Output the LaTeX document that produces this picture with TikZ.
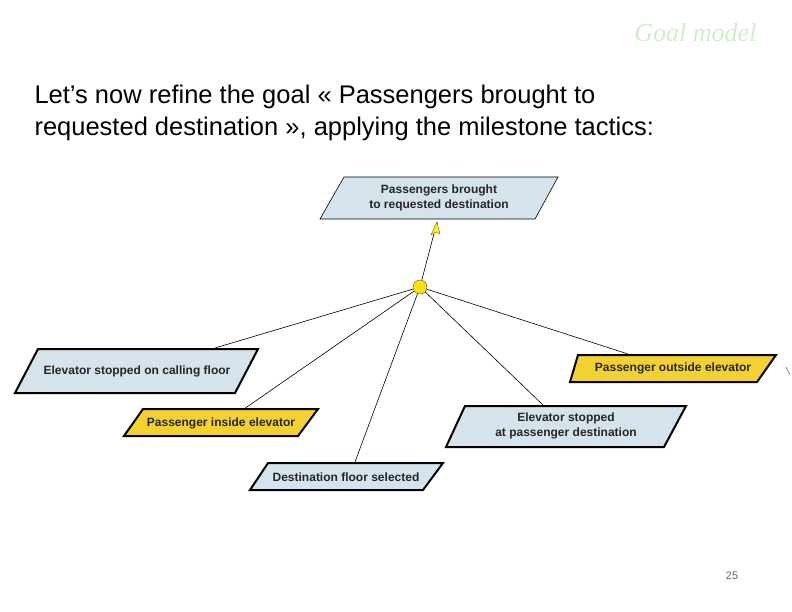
\documentclass[tikz,border=0pt]{standalone}
\usepackage{fontspec}
\setmainfont{Liberation Sans}
\newfontfamily\serifT{Liberation Serif}
\begin{document}
\begin{tikzpicture}[x=1pt,y=-1pt,
  blue/.style={fill=boxblue,draw=black},
  yel/.style={fill=boxyel,draw=black},
  lbl/.style={font=\fontsize{12}{15}\selectfont\bfseries,align=center,text=black!85},
  link/.style={draw=black,line width=0.6pt}]
\definecolor{boxblue}{HTML}{D5E3EC}
\definecolor{boxyel}{HTML}{F3D22F}
\definecolor{ttl}{HTML}{CDEFC8}
\useasboundingbox (0,0) rectangle (792,612);
\node[font=\serifT\itshape\fontsize{26}{28}\selectfont,text=ttl,anchor=east] (title) at (760,33) {Goal model};
\node[font=\fontsize{25.5}{32}\selectfont,align=left,anchor=north west] (head) at (31,81) {Let’s now refine the goal «~Passengers brought to\\requested destination~», applying the milestone tactics:};
% boxes
\draw[blue,line width=0.6pt] (344,177)--(558,177)--(535,219)--(320,219)--cycle;
\node[lbl] (g) at (439,198) {Passengers brought\\to requested destination};
\draw[blue,line width=2pt] (38,349)--(258,349)--(235,393)--(15,393)--cycle;
\node[lbl] (a) at (137,371) {Elevator stopped on calling floor};
\draw[yel,line width=2pt] (143,409)--(318,409)--(298,436)--(124,436)--cycle;
\node[lbl] (b) at (221,423) {Passenger inside elevator};
\draw[blue,line width=2pt] (268,463)--(443,463)--(423,490)--(250,490)--cycle;
\node[lbl] (c) at (346,477) {Destination floor selected};
\draw[blue,line width=2pt] (465,406)--(686,406)--(664,447)--(446,447)--cycle;
\node[lbl] (d) at (566,426) {Elevator stopped\\at passenger destination};
\draw[yel,line width=2pt] (578,355)--(776,355)--(757,382)--(570,382)--cycle;
\node[lbl] (e) at (673,368) {Passenger outside elevator};
% refinement
\node[circle,fill=yellow!85!orange,draw=black!70,inner sep=0pt,minimum size=14pt] (r) at (420,287) {};
\coordinate (ta) at (215,348);
\coordinate (tb) at (244,409);
\coordinate (tc) at (355,462);
\coordinate (td) at (543,405);
\coordinate (te) at (628,354);
\coordinate (tg) at (437,222);
\foreach \t in {ta,tb,tc,td,te} \draw[link] (r) -- (\t);
\draw[link] (r) -- (tg);
\fill[yellow,draw=black!60,line width=0.4pt] (tg) -- ++(-6,13) -- ++(5,-3) -- ++(4,2) -- cycle;
\draw[black!60,line width=0.5pt] (786,367) -- (790,375);
\node[font=\fontsize{11}{12}\selectfont,text=black!60] (pg) at (732,576) {25};
\end{tikzpicture}
\end{document}
